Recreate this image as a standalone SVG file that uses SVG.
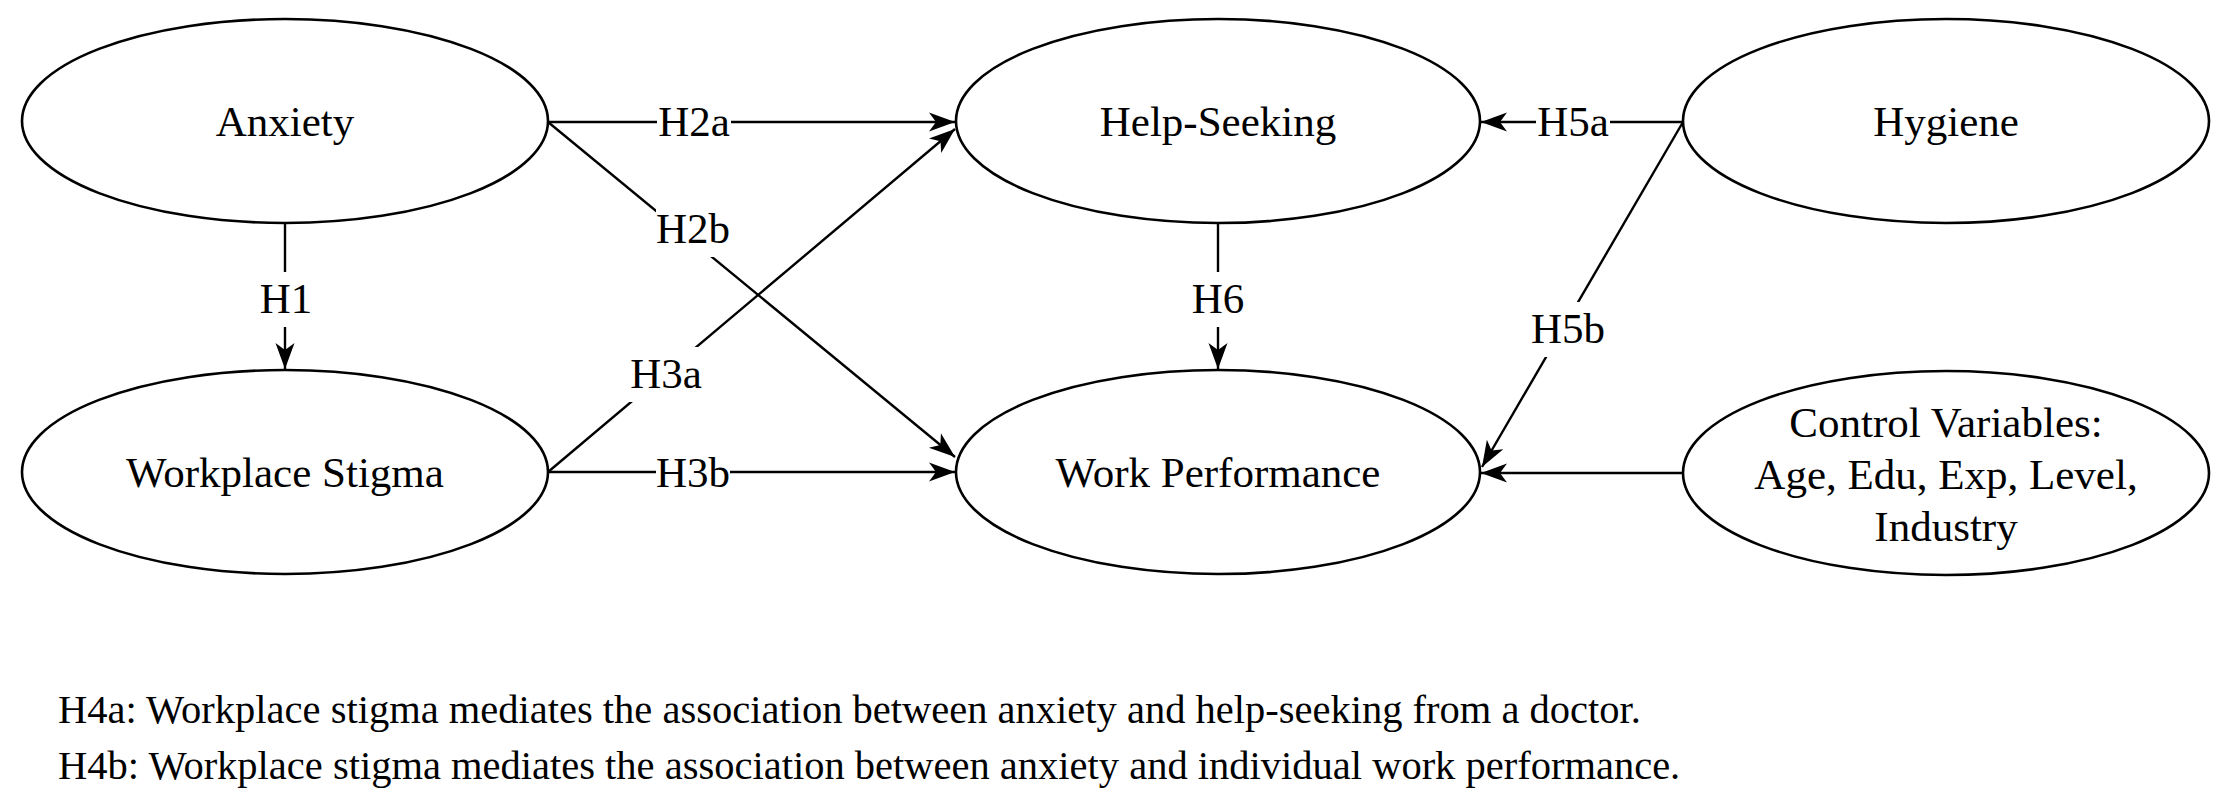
<svg xmlns="http://www.w3.org/2000/svg" width="2229" height="806" viewBox="0 0 2229 806">
<style>
text{font-family:"Liberation Serif","Times New Roman",serif;fill:#000}
.n{font-size:43px;text-anchor:middle}
.l{font-size:43px;text-anchor:middle}
.note{font-size:40.5px}
ellipse{fill:#fff;stroke:#000;stroke-width:2.6}
.c line{stroke:#000;stroke-width:2.4}
.bg{fill:#fff}
</style>
<defs>
<marker id="arr" markerUnits="userSpaceOnUse" viewBox="0 0 28 22" refX="27" refY="11" markerWidth="28" markerHeight="22" orient="auto">
<path d="M27,11 L1,1.5 L8,11 L1,20.5 Z" fill="#000"/>
</marker>
</defs>
<rect width="2229" height="806" fill="#fff"/>
<g class="c" id="connectors">
<line x1="548" y1="122" x2="955" y2="122" marker-end="url(#arr)"/>
<line x1="548" y1="122" x2="955" y2="457" marker-end="url(#arr)"/>
<line x1="285" y1="224" x2="285" y2="369" marker-end="url(#arr)"/>
<line x1="548" y1="472" x2="955" y2="129" marker-end="url(#arr)"/>
<line x1="548" y1="472" x2="955" y2="472" marker-end="url(#arr)"/>
<line x1="1218" y1="224" x2="1218" y2="369" marker-end="url(#arr)"/>
<line x1="1683" y1="122" x2="1481" y2="122" marker-end="url(#arr)"/>
<line x1="1683" y1="122" x2="1482" y2="467" marker-end="url(#arr)"/>
<line x1="1683" y1="473" x2="1481" y2="473" marker-end="url(#arr)"/>
<rect class="bg" x="657" y="95" width="74" height="54"/>
<text class="l" x="694" y="136">H2a</text>
<rect class="bg" x="656" y="202" width="74" height="55"/>
<text class="l" x="693" y="243">H2b</text>
<rect class="bg" x="266" y="272" width="40" height="55"/>
<text class="l" x="286" y="313">H1</text>
<rect class="bg" x="629" y="347" width="74" height="55"/>
<text class="l" x="666" y="388">H3a</text>
<rect class="bg" x="656" y="446" width="74" height="54"/>
<text class="l" x="693" y="487">H3b</text>
<rect class="bg" x="1197" y="272" width="42" height="55"/>
<text class="l" x="1218" y="313">H6</text>
<rect class="bg" x="1536" y="95" width="74" height="54"/>
<text class="l" x="1573" y="136">H5a</text>
<rect class="bg" x="1531" y="302" width="74" height="55"/>
<text class="l" x="1568" y="343">H5b</text>
</g>
<g id="anxiety"><ellipse cx="285" cy="121" rx="263" ry="102"/><text class="n" x="285" y="136">Anxiety</text></g>
<g id="stigma"><ellipse cx="285" cy="472" rx="263" ry="102"/><text class="n" x="285" y="487">Workplace Stigma</text></g>
<g id="helpseeking"><ellipse cx="1218" cy="121" rx="262" ry="102"/><text class="n" x="1218" y="136">Help-Seeking</text></g>
<g id="performance"><ellipse cx="1218" cy="472" rx="262" ry="102"/><text class="n" x="1218" y="487">Work Performance</text></g>
<g id="hygiene"><ellipse cx="1946" cy="121" rx="263" ry="102"/><text class="n" x="1946" y="136">Hygiene</text></g>
<g id="controls"><ellipse cx="1946" cy="473" rx="263" ry="102"/>
<text class="n" x="1946" y="437">Control Variables:</text>
<text class="n" x="1946" y="489">Age, Edu, Exp, Level,</text>
<text class="n" x="1946" y="541">Industry</text></g>
<g id="notes">
<text class="note" x="58" y="723">H4a: Workplace stigma mediates the association between anxiety and help-seeking from a doctor.</text>
<text class="note" x="58" y="779">H4b: Workplace stigma mediates the association between anxiety and individual work performance.</text>
</g>
</svg>
